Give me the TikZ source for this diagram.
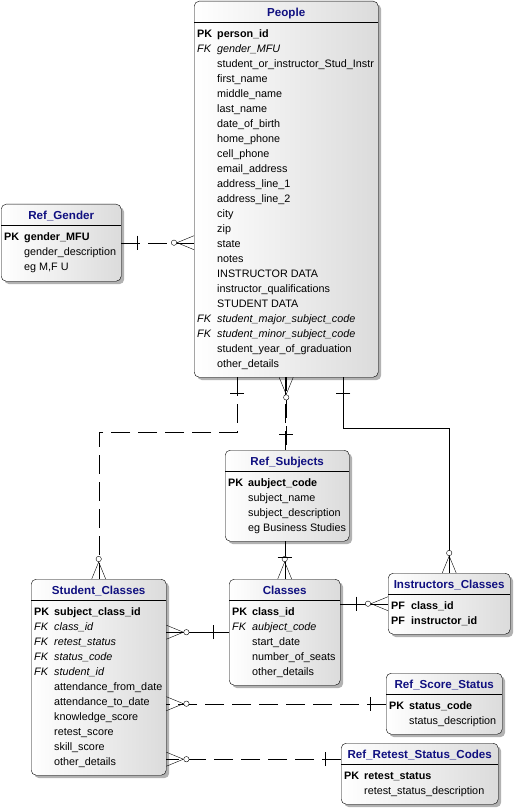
\documentclass[tikz,border=0pt]{standalone}
\usepackage{fontspec}
\setmainfont{Liberation Sans}
\usetikzlibrary{shadows,positioning}
\definecolor{navy}{RGB}{16,16,128}
\newcommand\fieldfont{\fontsize{10.8}{15}\selectfont}
\newenvironment{erows}{\begin{tabular}{@{}p{20pt}@{}l@{}}}{\end{tabular}}

\begin{document}
\begin{tikzpicture}[x=1pt, y=-1pt,
    entity/.style={draw, rounded corners=5pt, anchor=north west, left color=white, right color=black!14,
      drop shadow={shadow xshift=3pt, shadow yshift=-3pt, fill=black!30, opacity=1}},
    ttl/.style={anchor=north, inner sep=0pt, text height=8.5pt, text depth=2.5pt, text=navy,
      font=\fontsize{11.6}{14}\selectfont\bfseries},
    body/.style={anchor=north west, inner sep=0pt, font=\fieldfont},
    nonid/.style={dash pattern=on 19pt off 8pt},
    crow/.pic={\draw (0,7) -- (17,0) -- (0,-7); \draw[fill=white] (20,0) circle (2.7);},
    one/.pic={\draw (16,-7) -- (16,7);}]
    \useasboundingbox (0,0) rectangle (516,810);

    % tables
    \node[entity, minimum width=184pt, minimum height=376pt] (people) at (194,1) {};
    \node[ttl] (people-t) at ([yshift=-6.5pt]people.north) {People};
    \draw ([yshift=-21pt]people.north west) -- ([yshift=-21pt]people.north east);
    \node[body] (people-f) at ([shift={(3pt,-25.4pt)}]people.north west) {\begin{erows}
        \textbf{PK} & \textbf{person\_id}\\
        \textit{FK} & \textit{gender\_MFU}\\
        & student\_or\_instructor\_Stud\_Instr\\
        & first\_name\\
        & middle\_name\\
        & last\_name\\
        & date\_of\_birth\\
        & home\_phone\\
        & cell\_phone\\
        & email\_address\\
        & address\_line\_1\\
        & address\_line\_2\\
        & city\\
        & zip\\
        & state\\
        & notes\\
        & INSTRUCTOR DATA\\
        & instructor\_qualifications\\
        & STUDENT DATA\\
        \textit{FK} & \textit{student\_major\_subject\_code}\\
        \textit{FK} & \textit{student\_minor\_subject\_code}\\
        & student\_year\_of\_graduation\\
        & other\_details
      \end{erows}};

    \node[entity, minimum width=120pt, minimum height=77pt] (gender) at (1,204) {};
    \node[ttl] (gender-t) at ([yshift=-6.5pt]gender.north) {Ref\_Gender};
    \draw ([yshift=-21pt]gender.north west) -- ([yshift=-21pt]gender.north east);
    \node[body] (gender-f) at ([shift={(3pt,-25.4pt)}]gender.north west) {\begin{erows}
        \textbf{PK} & \textbf{gender\_MFU}\\
        & gender\_description\\
        & eg M,F U
      \end{erows}};

    \node[entity, minimum width=124pt, minimum height=91pt] (subjects) at (225,450) {};
    \node[ttl] (subjects-t) at ([yshift=-6.5pt]subjects.north) {Ref\_Subjects};
    \draw ([yshift=-21pt]subjects.north west) -- ([yshift=-21pt]subjects.north east);
    \node[body] (subjects-f) at ([shift={(3pt,-25.4pt)}]subjects.north west) {\begin{erows}
        \textbf{PK} & \textbf{aubject\_code}\\
        & subject\_name\\
        & subject\_description\\
        & eg Business Studies
      \end{erows}};

    \node[entity, minimum width=135pt, minimum height=196pt] (sc) at (31,579) {};
    \node[ttl] (sc-t) at ([yshift=-6.5pt]sc.north) {Student\_Classes};
    \draw ([yshift=-21pt]sc.north west) -- ([yshift=-21pt]sc.north east);
    \node[body] (sc-f) at ([shift={(3pt,-25.4pt)}]sc.north west) {\begin{erows}
        \textbf{PK} & \textbf{subject\_class\_id}\\
        \textit{FK} & \textit{class\_id}\\
        \textit{FK} & \textit{retest\_status}\\
        \textit{FK} & \textit{status\_code}\\
        \textit{FK} & \textit{student\_id}\\
        & attendance\_from\_date\\
        & attendance\_to\_date\\
        & knowledge\_score\\
        & retest\_score\\
        & skill\_score\\
        & other\_details
      \end{erows}};

    \node[entity, minimum width=111pt, minimum height=106pt] (classes) at (229,579) {};
    \node[ttl] (classes-t) at ([yshift=-6.5pt]classes.north) {Classes};
    \draw ([yshift=-21pt]classes.north west) -- ([yshift=-21pt]classes.north east);
    \node[body] (classes-f) at ([shift={(3pt,-25.4pt)}]classes.north west) {\begin{erows}
        \textbf{PK} & \textbf{class\_id}\\
        \textit{FK} & \textit{aubject\_code}\\
        & start\_date\\
        & number\_of\_seats\\
        & other\_details
      \end{erows}};

    \node[entity, minimum width=122pt, minimum height=61pt] (ic) at (388,573) {};
    \node[ttl] (ic-t) at ([yshift=-6.5pt]ic.north) {Instructors\_Classes};
    \draw ([yshift=-21pt]ic.north west) -- ([yshift=-21pt]ic.north east);
    \node[body] (ic-f) at ([shift={(3pt,-25.4pt)}]ic.north west) {\begin{erows}
        \textbf{PF} & \textbf{class\_id}\\
        \textbf{PF} & \textbf{instructor\_id}
      \end{erows}};

    \node[entity, minimum width=116pt, minimum height=61pt] (rss) at (386,673) {};
    \node[ttl] (rss-t) at ([yshift=-6.5pt]rss.north) {Ref\_Score\_Status};
    \draw ([yshift=-21pt]rss.north west) -- ([yshift=-21pt]rss.north east);
    \node[body] (rss-f) at ([shift={(3pt,-25.4pt)}]rss.north west) {\begin{erows}
        \textbf{PK} & \textbf{status\_code}\\
        & status\_description
      \end{erows}};

    \node[entity, minimum width=157pt, minimum height=61pt] (rrs) at (341,743) {};
    \node[ttl] (rrs-t) at ([yshift=-6.5pt]rrs.north) {Ref\_Retest\_Status\_Codes};
    \draw ([yshift=-21pt]rrs.north west) -- ([yshift=-21pt]rrs.north east);
    \node[body] (rrs-f) at ([shift={(3pt,-25.4pt)}]rrs.north west) {\begin{erows}
        \textbf{PK} & \textbf{retest\_status}\\
        & retest\_status\_description
      \end{erows}};

    % relationships
    \draw[nonid] (gender.east) -- (gender.east -| people.west);
    \pic at (gender.east) {one};
    \pic[rotate=180] at (gender.east -| people.west) {crow};

    \draw[nonid, line width=0.9pt] ([xshift=-0.6pt]people.south) -- ([xshift=-0.6pt]people.south |- subjects.north);
    \draw[nonid, line width=0.9pt, dash phase=5pt] ([xshift=0.6pt]people.south) -- ([xshift=0.6pt]people.south |- subjects.north);
    \pic[rotate=-90] at (people.south) {crow};
    \pic[rotate=90] at (people.south |- subjects.north) {one};

    \draw[nonid] ([xshift=43pt]people.south west) -- ++(0,55) -| (sc.north);
    \pic[rotate=-90] at ([xshift=43pt]people.south west) {one};
    \pic[rotate=90] at (sc.north) {crow};

    \draw ([xshift=-35pt]people.south east) -- ++(0,51) -| (ic.north);
    \pic[rotate=-90] at ([xshift=-35pt]people.south east) {one};
    \pic[rotate=90] at (ic.north) {crow};

    \draw (classes.north) -- (classes.north |- subjects.south);
    \pic[rotate=90] at (classes.north) {crow};
    \pic[rotate=90] at ([yshift=6pt]classes.north) {one};

    \draw (classes.west) -- (classes.west -| sc.east);
    \pic at (classes.west -| sc.east) {crow};
    \pic[rotate=180] at (classes.west) {one};

    \draw (ic.west) -- (ic.west -| classes.east);
    \pic at (ic.west -| classes.east) {one};
    \pic[rotate=180] at (ic.west) {crow};

    \draw[nonid] (rss.west) -- (rss.west -| sc.east);
    \pic at (rss.west -| sc.east) {crow};
    \pic[rotate=180] at (rss.west) {one};

    \coordinate (rrs-in) at ([yshift=14.5pt]rrs.west);
    \draw[nonid] (rrs-in) -- (rrs-in -| sc.east);
    \pic at (rrs-in -| sc.east) {crow};
    \pic[rotate=180] at (rrs-in) {one};
  \end{tikzpicture}
\end{document}
